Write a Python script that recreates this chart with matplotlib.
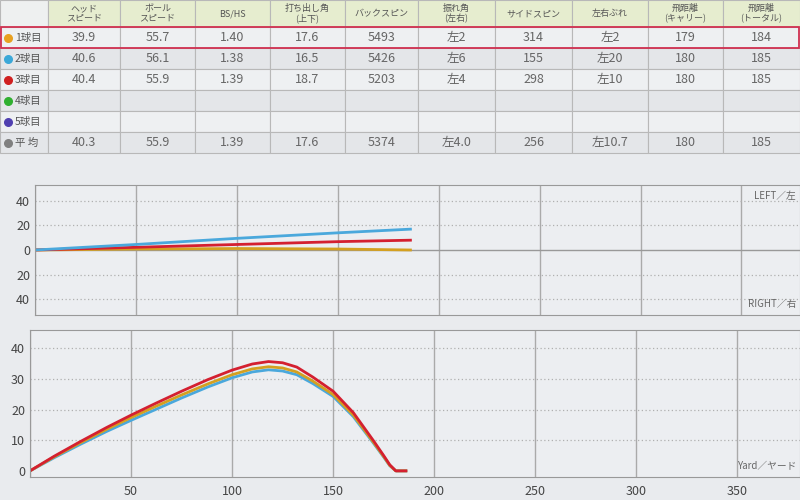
import matplotlib
matplotlib.use("Agg")
import matplotlib.pyplot as plt
from matplotlib.patches import Rectangle

plt.rcParams['font.family'] = ['Noto Sans CJK JP', 'DejaVu Sans']

headers = ["", "ヘッド\nスピード", "ボール\nスピード", "BS/HS", "打ち出し角\n(上下)", "バックスピン",
           "振れ角\n(左右)", "サイドスピン", "左右ぶれ", "飛距離\n(キャリー)", "飛距離\n(トータル)"]
row_labels = ["1球目", "2球目", "3球目", "4球目", "5球目", "平 均"]
row_colors = ["#e8a020", "#3ba8d8", "#d02020", "#30b030", "#5040b0", "#808080"]
rows = [
    ["39.9", "55.7", "1.40", "17.6", "5493", "左2", "314", "左2", "179", "184"],
    ["40.6", "56.1", "1.38", "16.5", "5426", "左6", "155", "左20", "180", "185"],
    ["40.4", "55.9", "1.39", "18.7", "5203", "左4", "298", "左10", "180", "185"],
    [""] * 10,
    [""] * 10,
    ["40.3", "55.9", "1.39", "17.6", "5374", "左4.0", "256", "左10.7", "180", "185"],
]

# lateral deviation (yards)
side_x = [0, 50, 100, 150, 186]
side_orange = [0, 0.8, 1.2, 0.8, 0]
side_blue = [0, 4.5, 9.5, 14, 17]
side_red = [0, 2.2, 4.5, 6.8, 8]

# height trajectories (yards, height)
h_x = [0, 12, 25, 38, 50, 62, 75, 88, 100, 110, 118, 125, 132, 140, 150, 160, 170, 175, 178, 181, 186]
h_red = [0, 4.8, 9.6, 14.2, 18.2, 22.0, 26.0, 29.8, 32.9, 34.9, 35.7, 35.3, 33.9, 30.6, 26.0, 19.0, 9.8, 5.0, 2.0, 0, 0]
h_orange = [0, 4.6, 9.2, 13.6, 17.4, 21.0, 24.8, 28.4, 31.4, 33.3, 34.0, 33.6, 32.3, 29.3, 24.9, 18.2, 9.3, 4.7, 1.8, 0, 0]
h_blue = [0, 4.3, 8.7, 12.9, 16.5, 20.0, 23.8, 27.4, 30.4, 32.3, 33.0, 32.6, 31.4, 28.5, 24.3, 17.7, 9.0, 4.5, 1.7, 0, 0]

fig = plt.figure(figsize=(8, 5), dpi=100)
fig.patch.set_facecolor("#e9ebee")

# table
tax = fig.add_axes([0, 1 - 160 / 500, 1, 160 / 500])
tax.set_xlim(0, 800); tax.set_ylim(160, 0); tax.axis("off")
col_edges = [0, 48, 120, 195, 270, 345, 418, 495, 572, 648, 723, 800]
row_edges = [0, 27, 48, 69, 90, 111, 132, 153]
for i in range(len(col_edges) - 1):
    x0, x1 = col_edges[i], col_edges[i + 1]
    fc = "#e6edcf" if i > 0 else "#eef0f0"
    tax.add_patch(Rectangle((x0, 0), x1 - x0, 27, fc=fc, ec="#b8b8b8", lw=0.8))
    tax.text((x0 + x1) / 2, 13.5, headers[i], ha="center", va="center", fontsize=6.5, color="#555555", linespacing=1.1)
for r in range(6):
    y0, y1 = row_edges[r + 1], row_edges[r + 2]
    for i in range(len(col_edges) - 1):
        x0, x1 = col_edges[i], col_edges[i + 1]
        tax.add_patch(Rectangle((x0, y0), x1 - x0, y1 - y0, fc="#eef0f2" if r % 2 == 0 else "#e4e6e9", ec="#b8b8b8", lw=0.8))
        if i == 0:
            tax.scatter([8], [(y0 + y1) / 2], s=30, color=row_colors[r], zorder=5)
            tax.text(15, (y0 + y1) / 2, row_labels[r], ha="left", va="center", fontsize=7.5, color="#555555")
        else:
            tax.text((x0 + x1) / 2, (y0 + y1) / 2, rows[r][i - 1], ha="center", va="center", fontsize=9, color="#666666")
tax.add_patch(Rectangle((1, 27), 798, 21, fc="none", ec="#d03050", lw=1.3, zorder=6))

def style(ax):
    ax.set_facecolor("#eceef1")
    for s in ax.spines.values():
        s.set_color("#999999")
    ax.tick_params(length=0, labelsize=9, colors="#444444")
    ax.set_xticks(range(0, 400, 50))
    ax.grid(axis="x", color="#aaaaaa", lw=1)
    ax.set_xlim(0, 379)

# side chart
ax1 = fig.add_axes([35 / 800, 1 - 315 / 500, 765 / 800, 130 / 500])
style(ax1)
ax1.set_ylim(-53, 53)
ax1.set_yticks([-40, -20, 0, 20, 40])
ax1.set_yticklabels(["40", "20", "0", "20", "40"])
for yv in [-40, -20, 20, 40]:
    ax1.axhline(yv, color="#b0b0b0", lw=0.9, ls=(0, (1, 2)))
ax1.axhline(0, color="#999999", lw=1)
ax1.set_xticklabels([])
ax1.plot(side_x, side_orange, color="#d4a020", lw=2)
ax1.plot(side_x, side_red, color="#d42030", lw=2)
ax1.plot(side_x, side_blue, color="#4aa8dc", lw=2)
ax1.text(377, 48, "LEFT／左", ha="right", va="top", fontsize=7, color="#666666")
ax1.text(377, -48, "RIGHT／右", ha="right", va="bottom", fontsize=7, color="#666666")

# height chart
ax2 = fig.add_axes([30 / 800, 1 - 477 / 500, 770 / 800, 147 / 500])
style(ax2)
ax2.set_xlim(0, 381)
ax2.set_ylim(-2, 46)
ax2.set_yticks([0, 10, 20, 30, 40])
for yv in [10, 20, 30, 40]:
    ax2.axhline(yv, color="#b0b0b0", lw=0.9, ls=(0, (1, 2)))
ax2.set_xticklabels(["", "50", "100", "150", "200", "250", "300", "350"])
ax2.tick_params(axis="x", pad=6)
ax2.plot(h_x, h_blue, color="#4aa8dc", lw=2)
ax2.plot(h_x, h_orange, color="#d4a020", lw=2)
ax2.plot(h_x, h_red, color="#d42030", lw=2)
ax2.text(379, 0, "Yard／ヤード", ha="right", va="bottom", fontsize=7, color="#666666")

fig.savefig("out.png", dpi=100, facecolor=fig.get_facecolor())
